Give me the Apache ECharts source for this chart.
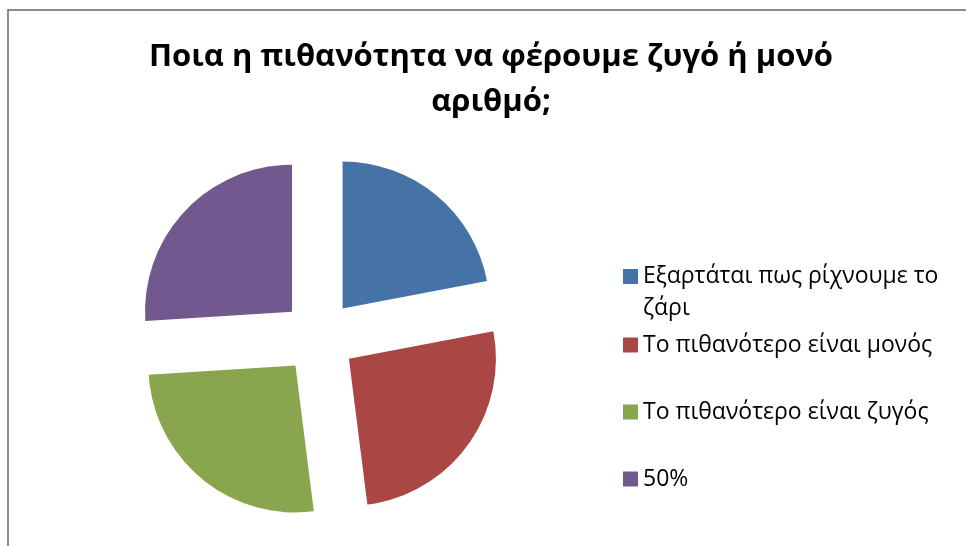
<!DOCTYPE html>
<html>
<head>
<meta charset="utf-8">
<style>
  html, body { margin: 0; padding: 0; background: #ffffff; }
  #chart { width: 966px; height: 546px; }
</style>
<script src="https://cdn.jsdelivr.net/npm/echarts@6/dist/echarts.min.js"></script>
</head>
<body>
<div id="chart"></div>
<script>
// Survey answers: shares of the responses (percent)
const categories = [
  'Εξαρτάται πως ρίχνουμε το ζάρι',
  'Το πιθανότερο είναι μονός',
  'Το πιθανότερο είναι ζυγός',
  '50%'
];
const values = [22, 26, 26, 26];
const colors = ['#4572A7', '#AA4643', '#89A54E', '#71588F'];
const titleLines = ['Ποια η πιθανότητα να φέρουμε ζυγό ή μονό', 'αριθμό;'];

const chart = echarts.init(document.getElementById('chart'), null, { renderer: 'canvas' });

const legendFont = '"Open Sans", "Noto Sans", sans-serif';
const legendLine = 32;
// icon centre (y) of each legend entry
const legendCentres = [276.5, 345, 412, 479];

// The long first entry wraps onto two lines; a blank leading line keeps
// its marker level with the first line of text.
const legendLabel = n =>
  n === categories[0] ? '\nΕξαρτάται πως ρίχνουμε το\nζάρι' : n;

const legends = categories.map((name, i) => {
  const wrapped = i === 0;
  return {
    data: [name],
    orient: 'vertical',
    left: 623,
    top: legendCentres[i] - (wrapped ? legendLine * 1.5 : legendLine / 2),
    padding: 0,
    itemWidth: 15,
    itemHeight: 15,
    icon: 'rect',
    selectedMode: false,
    formatter: legendLabel,
    textStyle: {
      fontFamily: legendFont,
      fontSize: 23,
      color: '#000000',
      lineHeight: legendLine
    }
  };
});

chart.setOption({
  animation: false,
  backgroundColor: '#ffffff',
  title: {
    text: titleLines.join('\n'),
    left: 486,
    top: 30,
    textAlign: 'center',
    textStyle: {
      fontFamily: '"Open Sans", "Noto Sans", sans-serif',
      fontWeight: 'bold',
      fontSize: 31,
      lineHeight: 45,
      color: '#000000'
    }
  },
  legend: legends,
  graphic: [{
    type: 'polyline',
    shape: { points: [[8, 560], [8, 10], [980, 10]] },
    style: { stroke: '#8C8C8C', lineWidth: 2, fill: null },
    silent: true
  }],
  series: [{
    type: 'pie',
    center: [319, 337],
    radius: 147,
    startAngle: 90,
    clockwise: true,
    selectedMode: 'multiple',
    selectedOffset: 37,
    label: { show: false },
    labelLine: { show: false },
    emphasis: { disabled: true },
    data: categories.map((name, i) => ({
      name,
      value: values[i],
      selected: true,
      itemStyle: { color: colors[i] },
      select: { itemStyle: { color: colors[i], borderWidth: 0 } }
    }))
  }]
});
</script>
</body>
</html>
